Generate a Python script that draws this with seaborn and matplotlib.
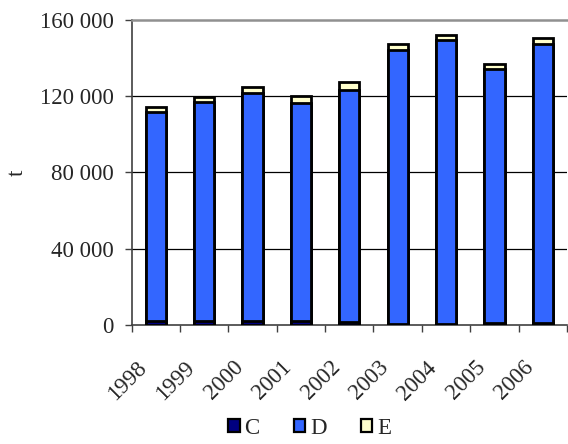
import matplotlib
import numpy as np
import pandas as pd

matplotlib.use("Agg")
import matplotlib.pyplot as plt
import seaborn as sns
from matplotlib.patches import Patch
from matplotlib.ticker import FuncFormatter, FixedLocator
from matplotlib.transforms import ScaledTranslation

sns.set_style("white")
plt.rcParams["font.family"] = ["Liberation Serif", "DejaVu Serif"]

years = ["1998", "1999", "2000", "2001", "2002", "2003", "2004", "2005", "2006"]
c_vals = [2000, 2000, 2000, 2000, 1500, 700, 700, 1000, 1000]
d_vals = [109600, 114800, 119500, 114400, 121800, 143700, 148800, 133300, 146600]
e_vals = [2800, 2800, 3300, 3700, 4200, 2800, 2600, 2800, 2800]

colors = {"C": "#000080", "D": "#3366FF", "E": "#FFFFCC"}

df = pd.DataFrame({"year": years, "C": c_vals, "D": d_vals, "E": e_vals})
df["CD"] = df["C"] + df["D"]
df["CDE"] = df["CD"] + df["E"]

fig = plt.figure(figsize=(5.68, 4.44), dpi=100)
ax = fig.add_axes([0.232, 0.268, 0.766, 0.687])

# stacked bars drawn back to front as cumulative totals
for col, key in [("CDE", "E"), ("CD", "D"), ("C", "C")]:
    sns.barplot(data=df, x="year", y=col, color=colors[key], saturation=1,
                width=0.42, edgecolor="black", linewidth=2.0, ax=ax, zorder=3)

ax.set_ylim(0, 160000)
ax.set_xlim(-0.5, 8.5)
ax.yaxis.set_major_locator(FixedLocator([0, 40000, 80000, 120000, 160000]))
ax.yaxis.set_major_formatter(FuncFormatter(lambda v, p: f"{int(v):,}".replace(",", " ")))
for yv in [40000, 80000, 120000]:
    ax.axhline(yv, color="black", lw=0.9, zorder=1)

ax.set_xlabel("")
ax.set_ylabel("t", fontsize=16.5, labelpad=9)
ax.tick_params(axis="y", labelsize=16.5, length=5, width=1, color="#404040", pad=8, left=True)
ax.set_xticks(range(len(years)))
ax.set_xticklabels(years, rotation=45, ha="right", va="top", fontsize=16.5)
ax.tick_params(axis="x", which="major", length=0, pad=23)
shift = ScaledTranslation(-5 / 100, 0, fig.dpi_scale_trans)
for lab in ax.get_xticklabels():
    lab.set_transform(lab.get_transform() + shift)
ax.set_xticks(np.arange(-0.5, 9.0, 1.0), minor=True)
ax.tick_params(axis="x", which="minor", length=5, width=1, color="#404040", bottom=True)

for s in ["left", "bottom"]:
    ax.spines[s].set_color("#404040")
    ax.spines[s].set_linewidth(1.2)
ax.spines["top"].set_color("#909090")
ax.spines["top"].set_linewidth(1.8)
ax.spines["right"].set_visible(False)

handles = [Patch(facecolor=colors[k], edgecolor="black", linewidth=1.6, label=k) for k in ["C", "D", "E"]]
fig.legend(handles=handles, loc="center", bbox_to_anchor=(0.545, 0.035), ncol=3, frameon=False,
           fontsize=16.5, handlelength=0.5, handleheight=0.5, handletextpad=0.2, columnspacing=1.5)

plt.savefig("out.png", dpi=100)
plt.close()
